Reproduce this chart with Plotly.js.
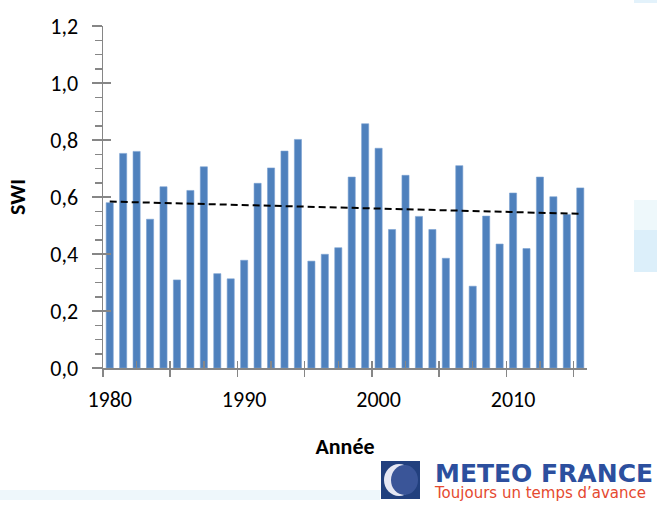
<!DOCTYPE html>
<html>
<head>
<meta charset="utf-8">
<script src="https://cdn.plot.ly/plotly-3.0.1.min.js"></script>
<style>
html,body{margin:0;padding:0;background:#fff;}
#chart{width:657px;height:506px;}
</style>
</head>
<body>
<div id="chart"></div>
<script>
// ---- data ----
const years = [1980,1981,1982,1983,1984,1985,1986,1987,1988,1989,
               1990,1991,1992,1993,1994,1995,1996,1997,1998,1999,
               2000,2001,2002,2003,2004,2005,2006,2007,2008,2009,
               2010,2011,2012,2013,2014,2015];
const swi = [0.580,0.753,0.760,0.522,0.636,0.309,0.623,0.706,0.331,0.313,
             0.378,0.648,0.702,0.761,0.802,0.375,0.399,0.422,0.670,0.857,
             0.771,0.486,0.676,0.532,0.486,0.385,0.710,0.287,0.533,0.435,
             0.614,0.419,0.670,0.601,0.539,0.632];
const trendYears = [1980, 2015];
const trendValues = [0.584, 0.541];
const xTickLabels = ["1980","1990","2000","2010"];
const xTickYears = [1980,1990,2000,2010];
const yTickValues = [0,0.2,0.4,0.6,0.8,1.0,1.2];

// ---- axis tick helpers (category boundaries every 5 years, half-way ticks) ----
const first = years[0] - 0.5, last = years[years.length-1] + 0.5;
const bigTicks = [], smallTicks = [];
for (let v = first; v <= last + 1e-9; v += 5) { bigTicks.push(v); }
for (let v = first + 2.5; v <= last; v += 5) { smallTicks.push(v); }
const allInside = bigTicks.concat(smallTicks).sort((a,b)=>a-b);

const axisGray = '#868686';
const font = 'Carlito, Lato, "Open Sans", sans-serif';

const traces = [
  {type:'bar', x:years, y:swi, xaxis:'x', yaxis:'y',
   marker:{color:'#4f81bd', line:{color:'#7aa1d2', width:0.6}},
   hoverinfo:'x+y', showlegend:false},
  {type:'scatter', mode:'lines', x:trendYears, y:trendValues, xaxis:'x2', yaxis:'y',
   line:{color:'#000000', width:2, dash:'7px,4px'}, hoverinfo:'skip', showlegend:false},
  {type:'scatter', mode:'lines', x:trendYears, y:trendValues, xaxis:'x3', yaxis:'y2',
   line:{color:'rgba(0,0,0,0)', width:0}, hoverinfo:'skip', showlegend:false}
];

// pixel -> paper helpers for decorative logo
const L=103, R=70, T=26, B=138, W=657, H=506;
const pw = W-L-R, ph = H-T-B;
const px = v => (v-L)/pw;
const py = v => (H-B-v)/ph;

const layout = {
  width:W, height:H,
  margin:{l:L, r:R, t:T, b:B, pad:0},
  paper_bgcolor:'#ffffff', plot_bgcolor:'rgba(0,0,0,0)',
  separators:', ',
  bargap:0.47,
  font:{family:font, size:22, color:'#000'},
  xaxis:{
    range:[first,last], tickmode:'array', tickvals:xTickYears, ticktext:xTickLabels,
    ticks:'', showgrid:false, zeroline:false, showline:true, linecolor:axisGray, linewidth:1.5,
    ticklabelstandoff:11, tickfont:{family:font, size:22, color:'#000'},
    title:{text:'<b>Année</b>', standoff:26, font:{family:font, size:22, color:'#000'}}
  },
  xaxis2:{overlaying:'x', matches:'x', anchor:'y', side:'bottom', range:[first,last],
    tickmode:'array', tickvals:bigTicks, ticks:'outside', ticklen:8, tickwidth:1.5, tickcolor:axisGray,
    showticklabels:false, showgrid:false, zeroline:false, showline:false},
  xaxis3:{overlaying:'x', matches:'x', anchor:'y', side:'bottom', range:[first,last],
    tickmode:'array', tickvals:allInside, ticks:'inside', ticklen:7, tickwidth:1.5, tickcolor:axisGray,
    showticklabels:false, showgrid:false, zeroline:false, showline:false},
  yaxis:{
    range:[0,1.2], tickmode:'array', tickvals:yTickValues, tickformat:'.1f',
    ticks:'outside', ticklen:10, tickwidth:1.5, tickcolor:axisGray,
    minor:{tickmode:'linear', tick0:0, dtick:0.05, ticks:'outside', ticklen:7, tickwidth:1.5, tickcolor:axisGray, showgrid:false},
    showgrid:false, zeroline:false, showline:true, linecolor:axisGray, linewidth:1.5,
    ticklabelstandoff:9, tickfont:{family:font, size:22, color:'#000'},
    title:{text:'<b>SWI</b>', standoff:18, font:{family:font, size:22, color:'#000'}}
  },
  yaxis2:{overlaying:'y', matches:'y', anchor:'x', side:'left', range:[0,1.2],
    tickmode:'array', tickvals:yTickValues, ticks:'inside', ticklen:8, tickwidth:1.5, tickcolor:axisGray,
    showticklabels:false, showgrid:false, zeroline:false, showline:false},
  shapes:[
    // faint background artefacts of the source picture
    {type:'rect', xref:'paper', yref:'paper', x0:px(634), x1:px(657), y0:py(272), y1:py(230),
     fillcolor:'#dceffa', line:{width:0}, layer:'below'},
    {type:'rect', xref:'paper', yref:'paper', x0:px(634), x1:px(657), y0:py(230), y1:py(200),
     fillcolor:'#eef8fb', line:{width:0}, layer:'below'},
    {type:'rect', xref:'paper', yref:'paper', x0:px(634), x1:px(657), y0:py(3), y1:py(0),
     fillcolor:'#e3f2fb', line:{width:0}, layer:'below'},
    {type:'rect', xref:'paper', yref:'paper', x0:px(0), x1:px(380), y0:py(500), y1:py(490),
     fillcolor:'#eef7fb', line:{width:0}, layer:'below'},
    // logo icon
    {type:'rect', xref:'paper', yref:'paper', x0:px(381), x1:px(420), y0:py(499), y1:py(461),
     fillcolor:'#22407e', line:{width:0}, layer:'above'},
    {type:'circle', xref:'paper', yref:'paper', x0:px(384), x1:px(414), y0:py(496), y1:py(464),
     fillcolor:'#e6e8f4', line:{width:0}, layer:'above'},
    {type:'circle', xref:'paper', yref:'paper', x0:px(391), x1:px(418), y0:py(495), y1:py(465),
     fillcolor:'#3a5598', line:{width:0}, layer:'above'}
  ],
  annotations:[
    {xref:'paper', yref:'paper', x:px(432), y:py(480), xanchor:'left', yanchor:'middle',
     align:'left', showarrow:false,
     text:'<b><span style="font-size:25px;color:#2c4f9e">METEO FRANCE</span></b><br>' +
          '<span style="font-size:15px;color:#e5492f">Toujours un temps d\u2019avance</span>',
     font:{family:'"DejaVu Sans", "Liberation Sans", sans-serif', size:12, color:'#2c4f9e'}}
  ]
};

Plotly.newPlot('chart', traces, layout, {displayModeBar:false, staticPlot:true});
</script>
</body>
</html>
